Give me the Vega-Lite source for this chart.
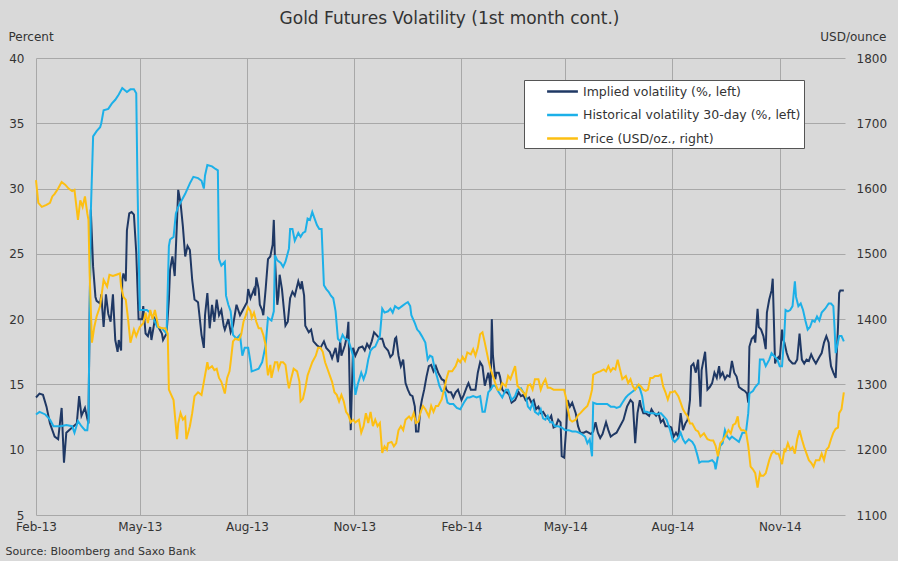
{
"$schema": "https://vega.github.io/schema/vega-lite/v6.json",
"width": 809, "height": 457,
"autosize": {"type": "none"},
"padding": {"left": 36, "top": 58, "right": 53, "bottom": 46},
"background": "#d9d9d9",
"title": {"text": "Gold Futures Volatility (1st month cont.)", "anchor": "middle", "dx": 9, "offset": 2, "font": "DejaVu Sans", "fontSize": 17, "fontWeight": "normal", "color": "#333333"},
"datasets": {
"iv": [
{"d":"2013-02-01","v":14.0},{"d":"2013-02-04","v":14.3},{"d":"2013-02-07","v":14.2},{"d":"2013-02-10","v":13.3},{"d":"2013-02-13","v":12.0},{"d":"2013-02-17","v":11.0},{"d":"2013-02-20","v":10.8},{"d":"2013-02-23","v":13.2},{"d":"2013-02-25","v":9.0},{"d":"2013-02-27","v":11.3},{"d":"2013-03-04","v":11.7},{"d":"2013-03-08","v":12.0},{"d":"2013-03-10","v":14.1},{"d":"2013-03-12","v":12.6},{"d":"2013-03-15","v":13.2},{"d":"2013-03-18","v":12.0},{"d":"2013-03-20","v":28.4},{"d":"2013-03-22","v":24.0},{"d":"2013-03-24","v":21.7},{"d":"2013-03-25","v":21.4},{"d":"2013-03-28","v":21.2},{"d":"2013-03-29","v":21.9},{"d":"2013-03-31","v":19.4},{"d":"2013-04-02","v":21.9},{"d":"2013-04-04","v":20.4},{"d":"2013-04-06","v":19.8},{"d":"2013-04-08","v":21.9},{"d":"2013-04-10","v":18.4},{"d":"2013-04-12","v":17.5},{"d":"2013-04-13","v":18.4},{"d":"2013-04-15","v":17.6},{"d":"2013-04-16","v":23.0},{"d":"2013-04-17","v":23.5},{"d":"2013-04-19","v":22.9},{"d":"2013-04-20","v":26.8},{"d":"2013-04-22","v":28.1},{"d":"2013-04-24","v":28.2},{"d":"2013-04-26","v":28.0},{"d":"2013-04-28","v":25.1},{"d":"2013-04-30","v":20.0},{"d":"2013-05-03","v":20.0},{"d":"2013-05-04","v":21.0},{"d":"2013-05-06","v":18.9},{"d":"2013-05-08","v":18.7},{"d":"2013-05-10","v":19.4},{"d":"2013-05-11","v":18.4},{"d":"2013-05-14","v":20.0},{"d":"2013-05-17","v":19.4},{"d":"2013-05-20","v":18.9},{"d":"2013-05-21","v":18.4},{"d":"2013-05-24","v":18.9},{"d":"2013-05-26","v":21.5},{"d":"2013-05-27","v":23.8},{"d":"2013-05-29","v":24.8},{"d":"2013-05-31","v":23.3},{"d":"2013-06-02","v":27.6},{"d":"2013-06-03","v":29.9},{"d":"2013-06-05","v":28.9},{"d":"2013-06-07","v":27.1},{"d":"2013-06-09","v":24.8},{"d":"2013-06-11","v":25.6},{"d":"2013-06-13","v":25.3},{"d":"2013-06-15","v":23.0},{"d":"2013-06-17","v":21.5},{"d":"2013-06-20","v":21.3},{"d":"2013-06-23","v":18.8},{"d":"2013-06-25","v":17.8},{"d":"2013-06-26","v":20.3},{"d":"2013-06-28","v":22.0},{"d":"2013-06-30","v":19.3},{"d":"2013-07-02","v":21.1},{"d":"2013-07-04","v":19.8},{"d":"2013-07-06","v":21.5},{"d":"2013-07-08","v":20.3},{"d":"2013-07-10","v":20.7},{"d":"2013-07-12","v":19.5},{"d":"2013-07-13","v":19.2},{"d":"2013-07-16","v":20.0},{"d":"2013-07-18","v":19.0},{"d":"2013-07-20","v":19.5},{"d":"2013-07-23","v":21.1},{"d":"2013-07-26","v":20.3},{"d":"2013-07-29","v":20.8},{"d":"2013-08-01","v":21.3},{"d":"2013-08-02","v":22.3},{"d":"2013-08-04","v":21.6},{"d":"2013-08-07","v":22.3},{"d":"2013-08-08","v":21.8},{"d":"2013-08-09","v":23.2},{"d":"2013-08-11","v":22.3},{"d":"2013-08-12","v":21.1},{"d":"2013-08-14","v":20.7},{"d":"2013-08-15","v":20.3},{"d":"2013-08-17","v":22.3},{"d":"2013-08-19","v":24.6},{"d":"2013-08-21","v":24.8},{"d":"2013-08-23","v":25.7},{"d":"2013-08-24","v":27.6},{"d":"2013-08-25","v":24.6},{"d":"2013-08-27","v":21.1},{"d":"2013-08-28","v":21.8},{"d":"2013-08-29","v":23.4},{"d":"2013-08-31","v":22.3},{"d":"2013-09-03","v":19.5},{"d":"2013-09-05","v":19.8},{"d":"2013-09-07","v":21.6},{"d":"2013-09-09","v":22.1},{"d":"2013-09-11","v":21.8},{"d":"2013-09-14","v":22.9},{"d":"2013-09-16","v":22.3},{"d":"2013-09-17","v":22.9},{"d":"2013-09-19","v":21.8},{"d":"2013-09-20","v":19.5},{"d":"2013-09-23","v":19.0},{"d":"2013-09-25","v":19.2},{"d":"2013-09-27","v":18.3},{"d":"2013-09-30","v":18.0},{"d":"2013-10-03","v":17.8},{"d":"2013-10-06","v":18.3},{"d":"2013-10-08","v":17.8},{"d":"2013-10-11","v":17.5},{"d":"2013-10-13","v":17.0},{"d":"2013-10-16","v":17.8},{"d":"2013-10-18","v":16.7},{"d":"2013-10-20","v":18.3},{"d":"2013-10-21","v":17.2},{"d":"2013-10-24","v":18.0},{"d":"2013-10-26","v":18.8},{"d":"2013-10-27","v":19.8},{"d":"2013-10-28","v":15.2},{"d":"2013-10-29","v":11.5},{"d":"2013-10-30","v":14.7},{"d":"2013-10-31","v":17.8},{"d":"2013-11-02","v":17.2},{"d":"2013-11-05","v":17.8},{"d":"2013-11-08","v":17.9},{"d":"2013-11-10","v":17.6},{"d":"2013-11-12","v":18.1},{"d":"2013-11-14","v":17.8},{"d":"2013-11-16","v":18.3},{"d":"2013-11-18","v":19.0},{"d":"2013-11-20","v":18.8},{"d":"2013-11-23","v":18.5},{"d":"2013-11-25","v":18.5},{"d":"2013-11-27","v":17.9},{"d":"2013-11-30","v":17.6},{"d":"2013-12-02","v":17.1},{"d":"2013-12-04","v":17.3},{"d":"2013-12-06","v":18.5},{"d":"2013-12-07","v":18.6},{"d":"2013-12-09","v":17.2},{"d":"2013-12-11","v":16.4},{"d":"2013-12-13","v":16.9},{"d":"2013-12-15","v":15.1},{"d":"2013-12-17","v":14.6},{"d":"2013-12-19","v":14.2},{"d":"2013-12-21","v":14.1},{"d":"2013-12-23","v":13.3},{"d":"2013-12-24","v":11.4},{"d":"2013-12-26","v":11.4},{"d":"2013-12-28","v":13.3},{"d":"2013-12-29","v":13.8},{"d":"2013-12-31","v":14.6},{"d":"2014-01-02","v":15.6},{"d":"2014-01-04","v":16.4},{"d":"2014-01-06","v":16.5},{"d":"2014-01-08","v":16.0},{"d":"2014-01-10","v":16.4},{"d":"2014-01-12","v":15.9},{"d":"2014-01-15","v":15.4},{"d":"2014-01-17","v":15.3},{"d":"2014-01-19","v":14.6},{"d":"2014-01-21","v":14.4},{"d":"2014-01-23","v":14.4},{"d":"2014-01-25","v":14.0},{"d":"2014-01-27","v":14.4},{"d":"2014-01-29","v":14.6},{"d":"2014-02-01","v":13.8},{"d":"2014-02-03","v":14.2},{"d":"2014-02-06","v":14.9},{"d":"2014-02-07","v":15.1},{"d":"2014-02-09","v":14.6},{"d":"2014-02-11","v":14.6},{"d":"2014-02-13","v":14.6},{"d":"2014-02-15","v":15.9},{"d":"2014-02-17","v":16.7},{"d":"2014-02-19","v":16.4},{"d":"2014-02-21","v":14.9},{"d":"2014-02-24","v":15.9},{"d":"2014-02-25","v":15.4},{"d":"2014-02-26","v":14.6},{"d":"2014-02-27","v":20.0},{"d":"2014-02-28","v":17.2},{"d":"2014-03-02","v":15.4},{"d":"2014-03-03","v":15.9},{"d":"2014-03-05","v":15.9},{"d":"2014-03-06","v":15.6},{"d":"2014-03-08","v":14.6},{"d":"2014-03-10","v":14.4},{"d":"2014-03-12","v":14.4},{"d":"2014-03-14","v":14.2},{"d":"2014-03-16","v":13.6},{"d":"2014-03-19","v":13.8},{"d":"2014-03-22","v":14.4},{"d":"2014-03-24","v":14.1},{"d":"2014-03-26","v":14.2},{"d":"2014-03-28","v":13.8},{"d":"2014-03-31","v":14.0},{"d":"2014-04-02","v":13.6},{"d":"2014-04-04","v":13.8},{"d":"2014-04-06","v":13.1},{"d":"2014-04-08","v":13.3},{"d":"2014-04-10","v":12.8},{"d":"2014-04-12","v":12.9},{"d":"2014-04-14","v":12.6},{"d":"2014-04-17","v":12.3},{"d":"2014-04-19","v":12.6},{"d":"2014-04-21","v":11.7},{"d":"2014-04-23","v":11.8},{"d":"2014-04-25","v":12.3},{"d":"2014-04-27","v":12.1},{"d":"2014-04-28","v":9.5},{"d":"2014-04-30","v":9.4},{"d":"2014-05-02","v":11.8},{"d":"2014-05-03","v":13.8},{"d":"2014-05-05","v":13.3},{"d":"2014-05-07","v":13.6},{"d":"2014-05-10","v":12.8},{"d":"2014-05-12","v":11.8},{"d":"2014-05-14","v":11.3},{"d":"2014-05-17","v":11.3},{"d":"2014-05-19","v":11.4},{"d":"2014-05-21","v":11.3},{"d":"2014-05-23","v":11.2},{"d":"2014-05-25","v":11.4},{"d":"2014-05-27","v":12.1},{"d":"2014-05-29","v":11.3},{"d":"2014-05-31","v":10.9},{"d":"2014-06-02","v":11.2},{"d":"2014-06-05","v":12.1},{"d":"2014-06-07","v":11.5},{"d":"2014-06-09","v":11.0},{"d":"2014-06-12","v":11.2},{"d":"2014-06-14","v":11.3},{"d":"2014-06-17","v":11.8},{"d":"2014-06-20","v":12.3},{"d":"2014-06-23","v":13.3},{"d":"2014-06-26","v":13.8},{"d":"2014-06-28","v":13.6},{"d":"2014-06-30","v":10.5},{"d":"2014-07-02","v":12.8},{"d":"2014-07-04","v":13.8},{"d":"2014-07-05","v":13.3},{"d":"2014-07-07","v":12.8},{"d":"2014-07-09","v":12.8},{"d":"2014-07-12","v":12.6},{"d":"2014-07-14","v":13.1},{"d":"2014-07-16","v":12.8},{"d":"2014-07-18","v":12.6},{"d":"2014-07-20","v":12.8},{"d":"2014-07-22","v":12.1},{"d":"2014-07-24","v":12.3},{"d":"2014-07-26","v":11.8},{"d":"2014-07-29","v":11.8},{"d":"2014-07-31","v":11.7},{"d":"2014-08-02","v":11.0},{"d":"2014-08-04","v":11.3},{"d":"2014-08-06","v":11.0},{"d":"2014-08-08","v":12.8},{"d":"2014-08-10","v":11.5},{"d":"2014-08-12","v":12.0},{"d":"2014-08-14","v":12.3},{"d":"2014-08-16","v":13.8},{"d":"2014-08-17","v":16.4},{"d":"2014-08-19","v":16.6},{"d":"2014-08-21","v":15.9},{"d":"2014-08-23","v":16.9},{"d":"2014-08-25","v":13.3},{"d":"2014-08-26","v":16.1},{"d":"2014-08-29","v":17.5},{"d":"2014-08-31","v":14.6},{"d":"2014-09-02","v":14.8},{"d":"2014-09-04","v":15.1},{"d":"2014-09-06","v":15.9},{"d":"2014-09-08","v":15.5},{"d":"2014-09-10","v":16.4},{"d":"2014-09-11","v":15.6},{"d":"2014-09-13","v":15.9},{"d":"2014-09-15","v":15.4},{"d":"2014-09-17","v":15.7},{"d":"2014-09-19","v":15.6},{"d":"2014-09-21","v":16.8},{"d":"2014-09-23","v":15.9},{"d":"2014-09-25","v":15.6},{"d":"2014-09-27","v":14.8},{"d":"2014-09-30","v":14.6},{"d":"2014-10-02","v":14.5},{"d":"2014-10-04","v":14.3},{"d":"2014-10-05","v":13.6},{"d":"2014-10-06","v":17.9},{"d":"2014-10-08","v":18.5},{"d":"2014-10-10","v":18.7},{"d":"2014-10-11","v":18.2},{"d":"2014-10-13","v":20.8},{"d":"2014-10-14","v":19.4},{"d":"2014-10-16","v":19.2},{"d":"2014-10-18","v":18.7},{"d":"2014-10-20","v":17.7},{"d":"2014-10-21","v":20.5},{"d":"2014-10-23","v":21.5},{"d":"2014-10-25","v":22.2},{"d":"2014-10-26","v":23.1},{"d":"2014-10-28","v":16.6},{"d":"2014-10-29","v":16.9},{"d":"2014-10-31","v":17.1},{"d":"2014-11-01","v":16.9},{"d":"2014-11-03","v":19.2},{"d":"2014-11-04","v":18.4},{"d":"2014-11-05","v":18.2},{"d":"2014-11-07","v":17.4},{"d":"2014-11-09","v":16.9},{"d":"2014-11-12","v":16.6},{"d":"2014-11-14","v":16.6},{"d":"2014-11-16","v":16.9},{"d":"2014-11-18","v":18.9},{"d":"2014-11-20","v":16.9},{"d":"2014-11-22","v":16.6},{"d":"2014-11-24","v":16.9},{"d":"2014-11-26","v":16.8},{"d":"2014-11-28","v":17.3},{"d":"2014-11-30","v":16.9},{"d":"2014-12-02","v":16.6},{"d":"2014-12-05","v":17.1},{"d":"2014-12-07","v":17.4},{"d":"2014-12-09","v":18.2},{"d":"2014-12-11","v":18.7},{"d":"2014-12-13","v":18.2},{"d":"2014-12-14","v":17.1},{"d":"2014-12-15","v":16.4},{"d":"2014-12-17","v":15.9},{"d":"2014-12-19","v":15.5},{"d":"2014-12-21","v":19.4},{"d":"2014-12-22","v":22.0},{"d":"2014-12-23","v":22.2},{"d":"2014-12-26","v":22.2}
],
"hv": [
{"d":"2013-02-01","v":12.7},{"d":"2013-02-04","v":12.9},{"d":"2013-02-09","v":12.7},{"d":"2013-02-13","v":12.3},{"d":"2013-02-16","v":11.8},{"d":"2013-02-22","v":11.8},{"d":"2013-02-27","v":11.9},{"d":"2013-03-04","v":11.8},{"d":"2013-03-06","v":11.3},{"d":"2013-03-09","v":12.2},{"d":"2013-03-12","v":11.8},{"d":"2013-03-15","v":11.5},{"d":"2013-03-17","v":11.5},{"d":"2013-03-18","v":12.4},{"d":"2013-03-20","v":28.1},{"d":"2013-03-22","v":34.0},{"d":"2013-03-25","v":34.4},{"d":"2013-03-28","v":34.7},{"d":"2013-03-29","v":35.0},{"d":"2013-03-31","v":36.0},{"d":"2013-04-04","v":36.1},{"d":"2013-04-07","v":36.5},{"d":"2013-04-10","v":36.8},{"d":"2013-04-13","v":37.2},{"d":"2013-04-16","v":37.7},{"d":"2013-04-20","v":37.4},{"d":"2013-04-23","v":37.6},{"d":"2013-04-26","v":37.6},{"d":"2013-04-28","v":37.3},{"d":"2013-04-29","v":30.7},{"d":"2013-05-01","v":20.7},{"d":"2013-05-04","v":20.7},{"d":"2013-05-07","v":20.7},{"d":"2013-05-10","v":20.5},{"d":"2013-05-13","v":20.0},{"d":"2013-05-16","v":19.4},{"d":"2013-05-20","v":19.3},{"d":"2013-05-24","v":18.9},{"d":"2013-05-26","v":25.6},{"d":"2013-05-27","v":26.1},{"d":"2013-05-30","v":26.3},{"d":"2013-06-01","v":28.1},{"d":"2013-06-03","v":28.6},{"d":"2013-06-06","v":29.1},{"d":"2013-06-09","v":29.6},{"d":"2013-06-13","v":30.4},{"d":"2013-06-16","v":30.9},{"d":"2013-06-20","v":30.8},{"d":"2013-06-23","v":30.6},{"d":"2013-06-25","v":30.0},{"d":"2013-06-26","v":31.0},{"d":"2013-06-28","v":31.8},{"d":"2013-07-02","v":31.7},{"d":"2013-07-05","v":31.5},{"d":"2013-07-07","v":31.4},{"d":"2013-07-08","v":24.6},{"d":"2013-07-10","v":24.1},{"d":"2013-07-13","v":24.4},{"d":"2013-07-14","v":21.8},{"d":"2013-07-16","v":21.1},{"d":"2013-07-18","v":20.6},{"d":"2013-07-20","v":18.8},{"d":"2013-07-23","v":18.5},{"d":"2013-07-26","v":18.8},{"d":"2013-07-28","v":17.2},{"d":"2013-07-30","v":17.8},{"d":"2013-08-02","v":17.8},{"d":"2013-08-04","v":16.7},{"d":"2013-08-05","v":16.0},{"d":"2013-08-08","v":16.1},{"d":"2013-08-11","v":16.2},{"d":"2013-08-14","v":16.7},{"d":"2013-08-17","v":18.0},{"d":"2013-08-19","v":20.1},{"d":"2013-08-22","v":19.9},{"d":"2013-08-24","v":20.6},{"d":"2013-08-25","v":24.9},{"d":"2013-08-27","v":24.5},{"d":"2013-08-30","v":24.3},{"d":"2013-09-01","v":24.0},{"d":"2013-09-03","v":24.4},{"d":"2013-09-06","v":25.4},{"d":"2013-09-07","v":26.9},{"d":"2013-09-09","v":26.9},{"d":"2013-09-11","v":26.0},{"d":"2013-09-14","v":26.6},{"d":"2013-09-16","v":26.3},{"d":"2013-09-18","v":26.6},{"d":"2013-09-20","v":26.7},{"d":"2013-09-22","v":27.7},{"d":"2013-09-24","v":27.6},{"d":"2013-09-26","v":28.2},{"d":"2013-09-28","v":27.7},{"d":"2013-09-30","v":27.2},{"d":"2013-10-02","v":26.9},{"d":"2013-10-04","v":26.9},{"d":"2013-10-06","v":22.6},{"d":"2013-10-08","v":22.3},{"d":"2013-10-10","v":22.1},{"d":"2013-10-12","v":21.8},{"d":"2013-10-14","v":21.6},{"d":"2013-10-16","v":20.6},{"d":"2013-10-18","v":18.5},{"d":"2013-10-20","v":18.3},{"d":"2013-10-22","v":18.8},{"d":"2013-10-24","v":18.5},{"d":"2013-10-27","v":18.4},{"d":"2013-10-29","v":17.8},{"d":"2013-10-31","v":17.2},{"d":"2013-11-01","v":15.2},{"d":"2013-11-02","v":14.2},{"d":"2013-11-04","v":15.0},{"d":"2013-11-07","v":15.9},{"d":"2013-11-09","v":15.4},{"d":"2013-11-11","v":15.9},{"d":"2013-11-13","v":16.9},{"d":"2013-11-15","v":17.6},{"d":"2013-11-17","v":17.8},{"d":"2013-11-19","v":17.9},{"d":"2013-11-21","v":18.3},{"d":"2013-11-23","v":18.7},{"d":"2013-11-25","v":20.8},{"d":"2013-11-27","v":20.5},{"d":"2013-11-30","v":20.6},{"d":"2013-12-02","v":20.8},{"d":"2013-12-04","v":20.5},{"d":"2013-12-06","v":21.0},{"d":"2013-12-09","v":20.8},{"d":"2013-12-12","v":21.0},{"d":"2013-12-15","v":21.2},{"d":"2013-12-17","v":21.3},{"d":"2013-12-19","v":21.0},{"d":"2013-12-20","v":20.3},{"d":"2013-12-23","v":19.7},{"d":"2013-12-25","v":19.2},{"d":"2013-12-27","v":19.0},{"d":"2013-12-29","v":18.7},{"d":"2014-01-01","v":18.2},{"d":"2014-01-03","v":16.9},{"d":"2014-01-05","v":17.2},{"d":"2014-01-07","v":17.1},{"d":"2014-01-09","v":16.2},{"d":"2014-01-11","v":15.6},{"d":"2014-01-13","v":14.9},{"d":"2014-01-15","v":14.5},{"d":"2014-01-18","v":14.4},{"d":"2014-01-20","v":13.6},{"d":"2014-01-22","v":13.5},{"d":"2014-01-25","v":13.5},{"d":"2014-01-28","v":13.2},{"d":"2014-01-31","v":13.1},{"d":"2014-02-03","v":13.6},{"d":"2014-02-06","v":14.0},{"d":"2014-02-08","v":14.0},{"d":"2014-02-11","v":14.1},{"d":"2014-02-14","v":14.0},{"d":"2014-02-17","v":14.1},{"d":"2014-02-19","v":12.9},{"d":"2014-02-21","v":12.9},{"d":"2014-02-24","v":14.4},{"d":"2014-02-26","v":14.6},{"d":"2014-02-28","v":14.9},{"d":"2014-03-02","v":14.9},{"d":"2014-03-05","v":14.4},{"d":"2014-03-08","v":14.0},{"d":"2014-03-11","v":14.6},{"d":"2014-03-13","v":14.6},{"d":"2014-03-16","v":13.8},{"d":"2014-03-19","v":14.1},{"d":"2014-03-21","v":14.6},{"d":"2014-03-24","v":14.7},{"d":"2014-03-26","v":14.4},{"d":"2014-03-28","v":14.2},{"d":"2014-03-30","v":13.3},{"d":"2014-04-01","v":13.1},{"d":"2014-04-03","v":13.6},{"d":"2014-04-05","v":12.9},{"d":"2014-04-08","v":12.7},{"d":"2014-04-10","v":13.1},{"d":"2014-04-12","v":12.4},{"d":"2014-04-14","v":12.3},{"d":"2014-04-16","v":12.6},{"d":"2014-04-18","v":12.1},{"d":"2014-04-20","v":12.1},{"d":"2014-04-22","v":11.8},{"d":"2014-04-25","v":11.8},{"d":"2014-04-28","v":11.7},{"d":"2014-05-01","v":11.5},{"d":"2014-05-04","v":11.5},{"d":"2014-05-07","v":11.4},{"d":"2014-05-10","v":11.4},{"d":"2014-05-13","v":11.3},{"d":"2014-05-15","v":11.2},{"d":"2014-05-18","v":11.0},{"d":"2014-05-20","v":10.5},{"d":"2014-05-22","v":10.8},{"d":"2014-05-24","v":9.5},{"d":"2014-05-25","v":13.6},{"d":"2014-05-28","v":13.5},{"d":"2014-05-31","v":13.5},{"d":"2014-06-03","v":13.5},{"d":"2014-06-06","v":13.5},{"d":"2014-06-09","v":13.3},{"d":"2014-06-12","v":13.3},{"d":"2014-06-14","v":13.2},{"d":"2014-06-17","v":13.3},{"d":"2014-06-19","v":13.6},{"d":"2014-06-22","v":14.0},{"d":"2014-06-24","v":14.2},{"d":"2014-06-27","v":14.4},{"d":"2014-06-30","v":14.6},{"d":"2014-07-02","v":14.9},{"d":"2014-07-04","v":14.7},{"d":"2014-07-06","v":14.1},{"d":"2014-07-08","v":12.9},{"d":"2014-07-10","v":12.9},{"d":"2014-07-13","v":12.8},{"d":"2014-07-16","v":12.8},{"d":"2014-07-19","v":12.7},{"d":"2014-07-22","v":12.8},{"d":"2014-07-24","v":12.6},{"d":"2014-07-27","v":12.3},{"d":"2014-07-30","v":11.5},{"d":"2014-08-01","v":10.8},{"d":"2014-08-03","v":10.6},{"d":"2014-08-06","v":10.9},{"d":"2014-08-08","v":11.3},{"d":"2014-08-10","v":10.8},{"d":"2014-08-12","v":10.5},{"d":"2014-08-15","v":10.8},{"d":"2014-08-18","v":10.6},{"d":"2014-08-20","v":10.3},{"d":"2014-08-22","v":9.7},{"d":"2014-08-24","v":9.0},{"d":"2014-08-26","v":9.1},{"d":"2014-08-29","v":9.1},{"d":"2014-09-01","v":9.1},{"d":"2014-09-04","v":9.2},{"d":"2014-09-06","v":9.0},{"d":"2014-09-07","v":8.5},{"d":"2014-09-09","v":9.5},{"d":"2014-09-11","v":10.3},{"d":"2014-09-13","v":10.5},{"d":"2014-09-15","v":11.5},{"d":"2014-09-17","v":11.0},{"d":"2014-09-19","v":10.8},{"d":"2014-09-21","v":11.0},{"d":"2014-09-24","v":10.8},{"d":"2014-09-27","v":10.6},{"d":"2014-09-30","v":11.3},{"d":"2014-10-03","v":11.3},{"d":"2014-10-05","v":12.8},{"d":"2014-10-06","v":14.3},{"d":"2014-10-09","v":14.5},{"d":"2014-10-11","v":14.8},{"d":"2014-10-14","v":15.1},{"d":"2014-10-15","v":16.9},{"d":"2014-10-18","v":16.9},{"d":"2014-10-20","v":16.4},{"d":"2014-10-23","v":16.9},{"d":"2014-10-25","v":17.4},{"d":"2014-10-28","v":17.1},{"d":"2014-10-30","v":16.9},{"d":"2014-11-01","v":16.4},{"d":"2014-11-03","v":16.4},{"d":"2014-11-05","v":18.9},{"d":"2014-11-06","v":20.7},{"d":"2014-11-08","v":20.6},{"d":"2014-11-10","v":20.7},{"d":"2014-11-12","v":21.0},{"d":"2014-11-14","v":22.9},{"d":"2014-11-15","v":21.7},{"d":"2014-11-17","v":21.0},{"d":"2014-11-19","v":21.2},{"d":"2014-11-21","v":20.7},{"d":"2014-11-23","v":19.9},{"d":"2014-11-25","v":19.2},{"d":"2014-11-27","v":19.4},{"d":"2014-11-29","v":19.9},{"d":"2014-12-01","v":19.8},{"d":"2014-12-03","v":20.2},{"d":"2014-12-05","v":19.9},{"d":"2014-12-07","v":20.5},{"d":"2014-12-10","v":20.8},{"d":"2014-12-13","v":21.2},{"d":"2014-12-15","v":21.2},{"d":"2014-12-17","v":21.0},{"d":"2014-12-18","v":19.4},{"d":"2014-12-19","v":17.4},{"d":"2014-12-22","v":18.7},{"d":"2014-12-24","v":18.7},{"d":"2014-12-26","v":18.3}
],
"p": [
{"d":"2013-02-01","v":1613},{"d":"2013-02-03","v":1578},{"d":"2013-02-06","v":1572},{"d":"2013-02-10","v":1575},{"d":"2013-02-13","v":1578},{"d":"2013-02-15","v":1588},{"d":"2013-02-17","v":1592},{"d":"2013-02-20","v":1600},{"d":"2013-02-23","v":1610},{"d":"2013-02-26","v":1606},{"d":"2013-03-01","v":1600},{"d":"2013-03-04","v":1596},{"d":"2013-03-06","v":1598},{"d":"2013-03-09","v":1552},{"d":"2013-03-11","v":1582},{"d":"2013-03-13","v":1572},{"d":"2013-03-15","v":1588},{"d":"2013-03-17","v":1562},{"d":"2013-03-18","v":1552},{"d":"2013-03-19","v":1470},{"d":"2013-03-21","v":1364},{"d":"2013-03-23","v":1388},{"d":"2013-03-25","v":1404},{"d":"2013-03-28","v":1420},{"d":"2013-03-31","v":1460},{"d":"2013-04-03","v":1450},{"d":"2013-04-05","v":1468},{"d":"2013-04-08","v":1466},{"d":"2013-04-11","v":1468},{"d":"2013-04-14","v":1470},{"d":"2013-04-15","v":1450},{"d":"2013-04-17","v":1434},{"d":"2013-04-19","v":1430},{"d":"2013-04-21","v":1400},{"d":"2013-04-23","v":1364},{"d":"2013-04-26","v":1384},{"d":"2013-04-28","v":1374},{"d":"2013-05-01","v":1388},{"d":"2013-05-04","v":1394},{"d":"2013-05-06","v":1410},{"d":"2013-05-08","v":1394},{"d":"2013-05-10","v":1414},{"d":"2013-05-12","v":1400},{"d":"2013-05-14","v":1414},{"d":"2013-05-17","v":1388},{"d":"2013-05-20","v":1386},{"d":"2013-05-23","v":1386},{"d":"2013-05-25","v":1378},{"d":"2013-05-26","v":1292},{"d":"2013-05-28","v":1284},{"d":"2013-05-30","v":1276},{"d":"2013-06-02","v":1216},{"d":"2013-06-03","v":1240},{"d":"2013-06-05","v":1256},{"d":"2013-06-07","v":1246},{"d":"2013-06-09","v":1250},{"d":"2013-06-10","v":1216},{"d":"2013-06-13","v":1236},{"d":"2013-06-15","v":1256},{"d":"2013-06-17","v":1282},{"d":"2013-06-20","v":1288},{"d":"2013-06-23","v":1284},{"d":"2013-06-25","v":1304},{"d":"2013-06-28","v":1334},{"d":"2013-06-29","v":1324},{"d":"2013-07-02","v":1328},{"d":"2013-07-04","v":1322},{"d":"2013-07-06","v":1324},{"d":"2013-07-08","v":1310},{"d":"2013-07-10","v":1304},{"d":"2013-07-13","v":1286},{"d":"2013-07-15","v":1310},{"d":"2013-07-17","v":1320},{"d":"2013-07-18","v":1334},{"d":"2013-07-20","v":1366},{"d":"2013-07-22","v":1370},{"d":"2013-07-25","v":1368},{"d":"2013-07-27","v":1376},{"d":"2013-07-29","v":1396},{"d":"2013-07-31","v":1406},{"d":"2013-08-02","v":1418},{"d":"2013-08-04","v":1412},{"d":"2013-08-05","v":1402},{"d":"2013-08-07","v":1410},{"d":"2013-08-09","v":1396},{"d":"2013-08-11","v":1386},{"d":"2013-08-13","v":1386},{"d":"2013-08-15","v":1376},{"d":"2013-08-17","v":1360},{"d":"2013-08-18","v":1330},{"d":"2013-08-19","v":1314},{"d":"2013-08-21","v":1330},{"d":"2013-08-22","v":1310},{"d":"2013-08-25","v":1334},{"d":"2013-08-27","v":1334},{"d":"2013-08-28","v":1324},{"d":"2013-08-30","v":1334},{"d":"2013-09-01","v":1334},{"d":"2013-09-03","v":1330},{"d":"2013-09-05","v":1304},{"d":"2013-09-06","v":1294},{"d":"2013-09-08","v":1310},{"d":"2013-09-10","v":1324},{"d":"2013-09-13","v":1320},{"d":"2013-09-15","v":1304},{"d":"2013-09-16","v":1274},{"d":"2013-09-18","v":1278},{"d":"2013-09-20","v":1294},{"d":"2013-09-22","v":1314},{"d":"2013-09-24","v":1324},{"d":"2013-09-26","v":1334},{"d":"2013-09-29","v":1344},{"d":"2013-10-01","v":1356},{"d":"2013-10-03","v":1356},{"d":"2013-10-05","v":1350},{"d":"2013-10-07","v":1334},{"d":"2013-10-09","v":1324},{"d":"2013-10-11","v":1314},{"d":"2013-10-13","v":1304},{"d":"2013-10-15","v":1288},{"d":"2013-10-17","v":1284},{"d":"2013-10-19","v":1274},{"d":"2013-10-21","v":1284},{"d":"2013-10-23","v":1274},{"d":"2013-10-25","v":1258},{"d":"2013-10-27","v":1253},{"d":"2013-10-29","v":1242},{"d":"2013-10-31","v":1246},{"d":"2013-11-02","v":1242},{"d":"2013-11-05","v":1246},{"d":"2013-11-07","v":1226},{"d":"2013-11-09","v":1236},{"d":"2013-11-11","v":1256},{"d":"2013-11-13","v":1241},{"d":"2013-11-15","v":1258},{"d":"2013-11-17","v":1236},{"d":"2013-11-19","v":1246},{"d":"2013-11-21","v":1236},{"d":"2013-11-23","v":1241},{"d":"2013-11-25","v":1195},{"d":"2013-11-27","v":1205},{"d":"2013-11-29","v":1200},{"d":"2013-11-30","v":1210},{"d":"2013-12-03","v":1212},{"d":"2013-12-05","v":1205},{"d":"2013-12-07","v":1210},{"d":"2013-12-09","v":1230},{"d":"2013-12-11","v":1236},{"d":"2013-12-13","v":1230},{"d":"2013-12-15","v":1246},{"d":"2013-12-18","v":1251},{"d":"2013-12-20","v":1246},{"d":"2013-12-22","v":1256},{"d":"2013-12-24","v":1241},{"d":"2013-12-26","v":1243},{"d":"2013-12-28","v":1258},{"d":"2013-12-30","v":1267},{"d":"2014-01-01","v":1262},{"d":"2014-01-04","v":1251},{"d":"2014-01-06","v":1267},{"d":"2014-01-08","v":1258},{"d":"2014-01-10","v":1267},{"d":"2014-01-12","v":1267},{"d":"2014-01-15","v":1277},{"d":"2014-01-17","v":1292},{"d":"2014-01-19","v":1308},{"d":"2014-01-21","v":1320},{"d":"2014-01-24","v":1320},{"d":"2014-01-27","v":1328},{"d":"2014-01-29","v":1338},{"d":"2014-01-31","v":1334},{"d":"2014-02-02","v":1342},{"d":"2014-02-04","v":1336},{"d":"2014-02-06","v":1349},{"d":"2014-02-09","v":1346},{"d":"2014-02-11","v":1354},{"d":"2014-02-13","v":1344},{"d":"2014-02-15","v":1356},{"d":"2014-02-17","v":1377},{"d":"2014-02-19","v":1380},{"d":"2014-02-21","v":1364},{"d":"2014-02-24","v":1338},{"d":"2014-02-26","v":1323},{"d":"2014-02-28","v":1313},{"d":"2014-03-02","v":1302},{"d":"2014-03-04","v":1292},{"d":"2014-03-06","v":1292},{"d":"2014-03-08","v":1302},{"d":"2014-03-11","v":1297},{"d":"2014-03-13","v":1313},{"d":"2014-03-15","v":1308},{"d":"2014-03-17","v":1318},{"d":"2014-03-19","v":1328},{"d":"2014-03-21","v":1298},{"d":"2014-03-24","v":1292},{"d":"2014-03-26","v":1288},{"d":"2014-03-28","v":1282},{"d":"2014-03-30","v":1298},{"d":"2014-04-01","v":1300},{"d":"2014-04-03","v":1292},{"d":"2014-04-05","v":1308},{"d":"2014-04-08","v":1308},{"d":"2014-04-10","v":1292},{"d":"2014-04-12","v":1302},{"d":"2014-04-14","v":1308},{"d":"2014-04-16","v":1295},{"d":"2014-04-18","v":1295},{"d":"2014-04-21","v":1292},{"d":"2014-04-24","v":1292},{"d":"2014-04-27","v":1292},{"d":"2014-04-30","v":1292},{"d":"2014-05-02","v":1277},{"d":"2014-05-03","v":1264},{"d":"2014-05-05","v":1246},{"d":"2014-05-07","v":1243},{"d":"2014-05-10","v":1246},{"d":"2014-05-12","v":1253},{"d":"2014-05-14","v":1256},{"d":"2014-05-17","v":1262},{"d":"2014-05-20","v":1267},{"d":"2014-05-22","v":1277},{"d":"2014-05-24","v":1292},{"d":"2014-05-25","v":1315},{"d":"2014-05-28","v":1318},{"d":"2014-05-31","v":1320},{"d":"2014-06-03","v":1323},{"d":"2014-06-05","v":1320},{"d":"2014-06-07","v":1328},{"d":"2014-06-09","v":1320},{"d":"2014-06-11","v":1325},{"d":"2014-06-13","v":1323},{"d":"2014-06-15","v":1338},{"d":"2014-06-17","v":1323},{"d":"2014-06-19","v":1308},{"d":"2014-06-22","v":1313},{"d":"2014-06-24","v":1302},{"d":"2014-06-26","v":1308},{"d":"2014-06-28","v":1297},{"d":"2014-06-30","v":1292},{"d":"2014-07-03","v":1300},{"d":"2014-07-05","v":1297},{"d":"2014-07-07","v":1292},{"d":"2014-07-09","v":1290},{"d":"2014-07-11","v":1292},{"d":"2014-07-13","v":1310},{"d":"2014-07-15","v":1310},{"d":"2014-07-17","v":1313},{"d":"2014-07-20","v":1313},{"d":"2014-07-22","v":1315},{"d":"2014-07-24","v":1297},{"d":"2014-07-26","v":1288},{"d":"2014-07-28","v":1277},{"d":"2014-07-30","v":1288},{"d":"2014-08-01","v":1288},{"d":"2014-08-03","v":1290},{"d":"2014-08-06","v":1282},{"d":"2014-08-08","v":1272},{"d":"2014-08-10","v":1262},{"d":"2014-08-12","v":1256},{"d":"2014-08-14","v":1251},{"d":"2014-08-16","v":1240},{"d":"2014-08-18","v":1240},{"d":"2014-08-21","v":1230},{"d":"2014-08-23","v":1228},{"d":"2014-08-25","v":1220},{"d":"2014-08-28","v":1225},{"d":"2014-08-31","v":1216},{"d":"2014-09-03","v":1214},{"d":"2014-09-05","v":1214},{"d":"2014-09-07","v":1206},{"d":"2014-09-09","v":1190},{"d":"2014-09-11","v":1210},{"d":"2014-09-13","v":1214},{"d":"2014-09-15","v":1220},{"d":"2014-09-18","v":1230},{"d":"2014-09-20","v":1225},{"d":"2014-09-22","v":1238},{"d":"2014-09-24","v":1240},{"d":"2014-09-26","v":1251},{"d":"2014-09-27","v":1236},{"d":"2014-09-29","v":1230},{"d":"2014-10-01","v":1230},{"d":"2014-10-03","v":1228},{"d":"2014-10-05","v":1206},{"d":"2014-10-07","v":1174},{"d":"2014-10-09","v":1170},{"d":"2014-10-11","v":1164},{"d":"2014-10-13","v":1142},{"d":"2014-10-15","v":1164},{"d":"2014-10-16","v":1160},{"d":"2014-10-18","v":1160},{"d":"2014-10-20","v":1164},{"d":"2014-10-23","v":1184},{"d":"2014-10-25","v":1194},{"d":"2014-10-27","v":1198},{"d":"2014-10-29","v":1194},{"d":"2014-10-31","v":1194},{"d":"2014-11-03","v":1178},{"d":"2014-11-05","v":1200},{"d":"2014-11-06","v":1198},{"d":"2014-11-08","v":1210},{"d":"2014-11-10","v":1200},{"d":"2014-11-12","v":1204},{"d":"2014-11-14","v":1194},{"d":"2014-11-16","v":1216},{"d":"2014-11-18","v":1230},{"d":"2014-11-20","v":1216},{"d":"2014-11-22","v":1204},{"d":"2014-11-24","v":1194},{"d":"2014-11-26","v":1184},{"d":"2014-11-28","v":1180},{"d":"2014-11-30","v":1174},{"d":"2014-12-02","v":1184},{"d":"2014-12-05","v":1184},{"d":"2014-12-07","v":1194},{"d":"2014-12-09","v":1184},{"d":"2014-12-11","v":1200},{"d":"2014-12-13","v":1204},{"d":"2014-12-15","v":1216},{"d":"2014-12-17","v":1226},{"d":"2014-12-19","v":1232},{"d":"2014-12-21","v":1234},{"d":"2014-12-22","v":1256},{"d":"2014-12-24","v":1262},{"d":"2014-12-26","v":1288}
]
},
"encoding": {
  "x": {"field": "d", "type": "temporal",
    "scale": {"type": "utc", "domain": [{"year": 2013, "month": 2, "date": 1, "utc": true}, {"year": 2014, "month": 12, "date": 27, "utc": true}]},
    "axis": {"values": [{"year": 2013, "month": 2, "date": 1, "utc": true}, {"year": 2013, "month": 5, "date": 1, "utc": true}, {"year": 2013, "month": 8, "date": 1, "utc": true}, {"year": 2013, "month": 11, "date": 1, "utc": true}, {"year": 2014, "month": 2, "date": 1, "utc": true}, {"year": 2014, "month": 5, "date": 1, "utc": true}, {"year": 2014, "month": 8, "date": 1, "utc": true}, {"year": 2014, "month": 11, "date": 1, "utc": true}],
      "labelExpr": "utcFormat(datum.value, '%b-%y')", "grid": true, "labelPadding": 6, "labelFlush": false, "labelOverlap": false,
      "title": "Source: Bloomberg and Saxo Bank", "titleX": -31, "titleY": 36, "titleAlign": "left", "titleBaseline": "middle", "titleFontSize": 11}
  }
},
"layer": [
  {
    "encoding": {
      "y": {"field": "v", "type": "quantitative", "scale": {"domain": [5, 40], "nice": false, "zero": false},
        "axis": {"values": [5, 10, 15, 20, 25, 30, 35, 40], "grid": true, "labelPadding": 12, "labelFlush": false,
          "title": "Percent", "titleAngle": 0, "titleX": -28, "titleY": -22, "titleAlign": "left", "titleBaseline": "middle"}}
    },
    "layer": [
      {"data": {"name": "iv"}, "mark": {"type": "line", "strokeWidth": 2},
       "encoding": {"color": {"datum": "Implied volatility (%, left)", "type": "nominal",
         "scale": {"domain": ["Implied volatility (%, left)", "Historical volatility 30-day (%, left)", "Price (USD/oz., right)"], "range": ["#1f3864", "#1cb0e8", "#fdbf12"]},
         "legend": {"title": null, "orient": "none", "legendX": 488, "legendY": 22, "direction": "vertical", "fillColor": "#ffffff", "strokeColor": "#555555", "padding": 3, "symbolType": "M-2.2,0H2.2", "symbolSize": 196, "symbolStrokeWidth": 2.5, "symbolOffset": 27, "labelFont": "DejaVu Sans", "labelFontSize": 12.5, "labelColor": "#333333", "labelOffset": 12, "rowPadding": 8.5, "labelLimit": 400}}}},
      {"data": {"name": "hv"}, "mark": {"type": "line", "strokeWidth": 2},
       "encoding": {"color": {"datum": "Historical volatility 30-day (%, left)", "type": "nominal",
         "scale": {"domain": ["Implied volatility (%, left)", "Historical volatility 30-day (%, left)", "Price (USD/oz., right)"], "range": ["#1f3864", "#1cb0e8", "#fdbf12"]},
         "legend": {"title": null, "orient": "none", "legendX": 488, "legendY": 22, "direction": "vertical", "fillColor": "#ffffff", "strokeColor": "#555555", "padding": 3, "symbolType": "M-2.2,0H2.2", "symbolSize": 196, "symbolStrokeWidth": 2.5, "symbolOffset": 27, "labelFont": "DejaVu Sans", "labelFontSize": 12.5, "labelColor": "#333333", "labelOffset": 12, "rowPadding": 8.5, "labelLimit": 400}}}}
    ]
  },
  {"data": {"name": "p"}, "mark": {"type": "line", "strokeWidth": 2},
   "encoding": {
     "y": {"field": "v", "type": "quantitative", "scale": {"domain": [1100, 1800], "nice": false, "zero": false},
       "axis": {"orient": "right", "values": [1100, 1200, 1300, 1400, 1500, 1600, 1700, 1800], "format": "d", "grid": false, "labelPadding": 11, "labelFlush": false,
         "title": "USD/ounce", "titleAngle": 0, "titleX": 41, "titleY": -22, "titleAlign": "right", "titleBaseline": "middle"}},
     "color": {"datum": "Price (USD/oz., right)", "type": "nominal",
         "scale": {"domain": ["Implied volatility (%, left)", "Historical volatility 30-day (%, left)", "Price (USD/oz., right)"], "range": ["#1f3864", "#1cb0e8", "#fdbf12"]},
         "legend": {"title": null, "orient": "none", "legendX": 488, "legendY": 22, "direction": "vertical", "fillColor": "#ffffff", "strokeColor": "#555555", "padding": 3, "symbolType": "M-2.2,0H2.2", "symbolSize": 196, "symbolStrokeWidth": 2.5, "symbolOffset": 27, "labelFont": "DejaVu Sans", "labelFontSize": 12.5, "labelColor": "#333333", "labelOffset": 12, "rowPadding": 8.5, "labelLimit": 400}}
   }}
],
"resolve": {"scale": {"y": "independent"}},
"config": {
  "view": {"stroke": null},
  "axis": {"domain": false, "ticks": false, "labelFont": "DejaVu Sans", "labelFontSize": 12, "labelColor": "#333333", "titleFont": "DejaVu Sans", "titleFontSize": 12, "titleFontWeight": "normal", "titleColor": "#333333", "gridColor": "#a8a8a8", "gridOpacity": 1, "gridWidth": 1}
}
}
